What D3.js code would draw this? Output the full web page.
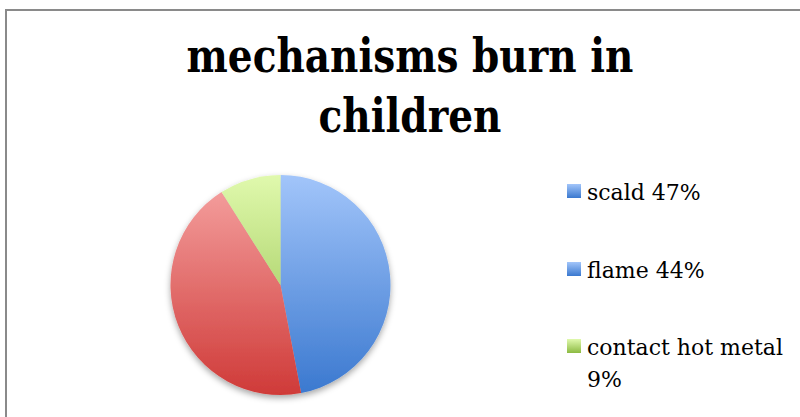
<!DOCTYPE html>
<html>
<head>
<meta charset="utf-8">
<script src="https://cdn.jsdelivr.net/npm/d3@7"></script>
<style>
  body { margin: 0; background: #fff; }
  svg { display: block; }
</style>
</head>
<body>
<div id="chart"></div>
<script>
// chart data
let categories = ["scald", "flame", "contact hot metal"];
let shares = [47, 44, 9];
let legendLines = [["scald 47%"], ["flame 44%"], ["contact hot metal", "9%"]];
let titleLines = ["mechanisms burn in", "children"];

let svgWidth = 800;
let svgHeight = 417;

// slice colours: light at top, dark at bottom
let sliceTop = ["#a2c5fa", "#f6a4a3", "#e0f9ad"];
let sliceBottom = ["#3a78cf", "#cf3a38", "#8cba42"];
// legend marker for flame is blue in the original chart
let markerIdx = [0, 0, 2];

let cx = 280.5, cy = 285, radius = 110;

let svg = d3.select("#chart").append("svg")
  .attr("width", svgWidth)
  .attr("height", svgHeight);

let defs = svg.append("defs");

// frame
svg.append("rect")
  .attr("x", 6).attr("y", 10)
  .attr("width", 820).attr("height", 440)
  .attr("fill", "none")
  .attr("stroke", "#8a8a8a")
  .attr("stroke-width", 2);

/********************************************/
// title
let title = svg.append("g")
  .attr("font-family", "'DejaVu Serif', serif")
  .attr("font-weight", "bold")
  .attr("font-size", 47)
  .attr("fill", "#000")
  .attr("text-anchor", "middle");

let titleY = [72, 132];
let titleTexts = titleLines.map(function (t, i) {
  return title.append("text")
    .attr("x", 410)
    .attr("y", titleY[i])
    .text(t);
});
// squeeze to the width of the original (narrower) face
let tk = 447 / titleTexts[0].node().getComputedTextLength();
titleTexts.forEach(function (t) {
  t.attr("transform", `translate(410, 0) scale(${tk}, 1) translate(-410, 0)`);
});

/********************************************/
// gradients
categories.forEach(function (c, i) {
  let g = defs.append("linearGradient")
    .attr("id", "grad" + i)
    .attr("gradientUnits", "userSpaceOnUse")
    .attr("x1", 0).attr("x2", 0)
    .attr("y1", -radius).attr("y2", radius);
  g.append("stop").attr("offset", "0%").attr("stop-color", sliceTop[i]);
  g.append("stop").attr("offset", "100%").attr("stop-color", sliceBottom[i]);

  let m = defs.append("linearGradient")
    .attr("id", "mgrad" + i)
    .attr("x1", 0).attr("x2", 0).attr("y1", 0).attr("y2", 1);
  m.append("stop").attr("offset", "0%").attr("stop-color", sliceTop[i]);
  m.append("stop").attr("offset", "100%").attr("stop-color", sliceBottom[i]);
});

let shadow = defs.append("filter")
  .attr("id", "shadow")
  .attr("x", "-20%").attr("y", "-20%")
  .attr("width", "140%").attr("height", "140%");
shadow.append("feDropShadow")
  .attr("dx", 0).attr("dy", 3)
  .attr("stdDeviation", 3)
  .attr("flood-color", "#000")
  .attr("flood-opacity", 0.35);

/********************************************/
// pie
let pie = d3.pie().sort(null).value((d) => d);
let arc = d3.arc().innerRadius(0).outerRadius(radius);

let pieGroup = svg.append("g")
  .attr("transform", `translate(${cx}, ${cy})`)
  .attr("filter", "url(#shadow)");

pieGroup.selectAll("path")
  .data(pie(shares))
  .enter()
  .append("path")
  .attr("d", arc)
  .attr("fill", (d, i) => `url(#grad${i})`);

/********************************************/
// legend
let legend = svg.append("g")
  .attr("font-family", "'DejaVu Serif', serif")
  .attr("font-size", 22)
  .attr("fill", "#000");

let legendY = [200, 278, 355];
let legendX = 587;

let widest = null;
legendLines.forEach(function (lines, i) {
  legend.append("rect")
    .attr("x", 567)
    .attr("y", legendY[i] - 16)
    .attr("width", 14)
    .attr("height", 14)
    .attr("fill", `url(#mgrad${markerIdx[i]})`);

  let txt = legend.append("text")
    .attr("class", "legendText")
    .attr("x", legendX)
    .attr("y", legendY[i]);

  lines.forEach(function (l, j) {
    txt.append("tspan")
      .attr("x", legendX)
      .attr("dy", j === 0 ? 0 : 32)
      .text(l);
  });
  if (i === 2) widest = txt.select("tspan");
});

// squeeze legend text like the narrower original face
let lk = 196 / widest.node().getComputedTextLength();
legend.selectAll(".legendText")
  .attr("transform", `translate(${legendX}, 0) scale(${lk}, 1) translate(${-legendX}, 0)`);
</script>
</body>
</html>
